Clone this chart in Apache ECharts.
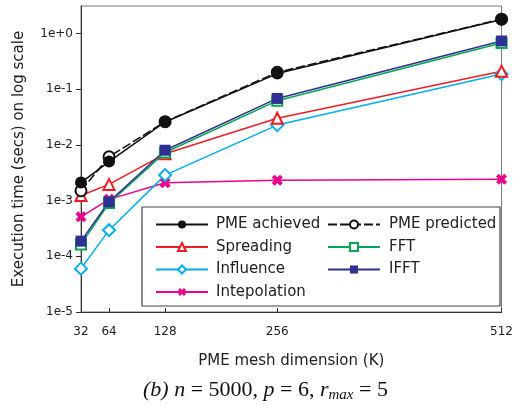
<!DOCTYPE html>
<html>
<head>
<meta charset="utf-8">
<script src="https://cdn.jsdelivr.net/npm/echarts@6/dist/echarts.min.js"></script>
<style>
  html, body { margin: 0; padding: 0; background: #fff; }
  #main { width: 516px; height: 406px; }
</style>
</head>
<body>
<div id="main"></div>
<script>
// mesh dimension K
var meshDims = [32, 64, 128, 256, 512];
var yTicks = [1e-5, 1e-4, 1e-3, 1e-2, 1e-1, 1];

// execution times (secs)
var pmeAchieved  = [0.0021, 0.0050, 0.0257, 0.19, 1.78];
var pmePredicted = [0.0015, 0.0061, 0.026, 0.20, 1.80];
var spreading    = [0.00123, 0.00195, 0.0069, 0.030, 0.21];
var influence    = [0.00006, 0.000294, 0.00286, 0.0226, 0.186];
var intepolation = [0.00051, 0.00105, 0.00209, 0.00232, 0.00242];
var fft          = [0.000163, 0.00090, 0.0073, 0.062, 0.67];
var ifft         = [0.000187, 0.00095, 0.0080, 0.068, 0.73];

var FONT = 'DejaVu Sans';
// chunky "x" marker
var crossPath = 'path://M0,2.5 L2.5,0 L5,2.5 L7.5,0 L10,2.5 L7.5,5 L10,7.5 L7.5,10 L5,7.5 L2.5,10 L0,7.5 L2.5,5 Z';

function pairs(vals) {
    return meshDims.map(function (k, i) { return [k, vals[i]]; });
}

function mkSeries(name, vals, color, symbol, size, opts) {
    opts = opts || {};
    return {
        name: name,
        type: 'line',
        data: pairs(vals),
        symbol: symbol,
        symbolSize: size,
        showAllSymbol: true,
        z: opts.z || 2,
        lineStyle: { color: color, width: 1.5, type: opts.dash || 'solid' },
        itemStyle: { color: color, borderWidth: 1.5 },
        emphasis: { disabled: true },
        animation: false
    };
}

var myChart = echarts.init(document.getElementById('main'));

var option = {
    backgroundColor: '#fff',
    grid: {
        left: 81, right: 9, top: 6, bottom: 94,
        show: true, borderColor: '#777', borderWidth: 1
    },
    xAxis: {
        type: 'value',
        min: 32,
        max: 512,
        name: 'PME mesh dimension (K)',
        nameLocation: 'middle',
        nameGap: 42,
        nameTextStyle: { fontFamily: FONT, fontSize: 15, color: '#222' },
        axisLine: { lineStyle: { color: '#333', width: 1 } },
        axisTick: { show: true, inside: true, length: 4, customValues: meshDims, lineStyle: { color: '#333' } },
        axisLabel: { customValues: meshDims, fontFamily: FONT, fontSize: 12, color: '#222', margin: 14 },
        splitLine: { show: false }
    },
    yAxis: {
        type: 'log',
        logBase: 10,
        min: 1e-5,
        max: 3.1,
        name: 'Execution time (secs) on log scale',
        nameLocation: 'middle',
        nameGap: 54,
        nameTextStyle: { fontFamily: FONT, fontSize: 15, color: '#222' },
        axisLine: { show: true, lineStyle: { color: '#333', width: 1 } },
        axisTick: { show: true, length: 5, customValues: yTicks, lineStyle: { color: '#333' } },
        axisLabel: {
            customValues: yTicks,
            fontFamily: FONT, fontSize: 12, color: '#222', margin: 8,
            formatter: function (v) {
                var e = Math.round(Math.log10(v));
                if (Math.abs(Math.log10(v) - e) > 1e-6) return '';
                return '1e' + (e >= 0 ? '+' : '') + e;
            }
        },
        splitLine: { show: false }
    },
    legend: [
        {
            orient: 'vertical',
            left: 150, top: 212,
            itemWidth: 52, itemHeight: 10, itemGap: 7.5,
            z: 6,
            textStyle: { fontFamily: FONT, fontSize: 15, color: '#222', padding: [0, 0, 0, 3] },
            data: ['PME achieved', 'Spreading', 'Influence', 'Intepolation']
        },
        {
            orient: 'vertical',
            left: 322, top: 212,
            itemWidth: 52, itemHeight: 10, itemGap: 7.5,
            z: 6,
            textStyle: { fontFamily: FONT, fontSize: 15, color: '#222', padding: [0, 0, 0, 4] },
            data: ['PME predicted', 'FFT', 'IFFT']
        }
    ],
    graphic: [
        {
            type: 'rect',
            z: 5,
            shape: { x: 142, y: 207, width: 358, height: 99 },
            style: { fill: '#fff', stroke: '#444', lineWidth: 1.2 }
        },
        {
            type: 'text',
            left: 143, top: 379,
            z: 5,
            style: {
                text: '{i|(b) n}{u| = 5000, }{i|p}{u| = 6, }{i|r}{s|max}{u| = 5}',
                rich: {
                    i: { fontFamily: 'Liberation Serif', fontStyle: 'italic', fontSize: 22, fill: '#111' },
                    u: { fontFamily: 'Liberation Serif', fontSize: 22, fill: '#111' },
                    s: { fontFamily: 'Liberation Serif', fontStyle: 'italic', fontSize: 15, fill: '#111', padding: [10, 0, 0, 0] }
                }
            }
        }
    ],
    series: [
        mkSeries('Intepolation', intepolation, '#ec008c', crossPath, 11),
        mkSeries('Influence', influence, '#00aeef', 'emptyDiamond', 12),
        mkSeries('Spreading', spreading, '#ee1c24', 'emptyTriangle', 11),
        mkSeries('FFT', fft, '#00a651', 'emptyRect', 10),
        mkSeries('IFFT', ifft, '#2e3192', 'rect', 11),
        mkSeries('PME predicted', pmePredicted, '#111', 'emptyCircle', 11, { dash: [9, 3], z: 3 }),
        mkSeries('PME achieved', pmeAchieved, '#111', 'circle', 12, { z: 4 })
    ]
};

myChart.setOption(option);
</script>
</body>
</html>
